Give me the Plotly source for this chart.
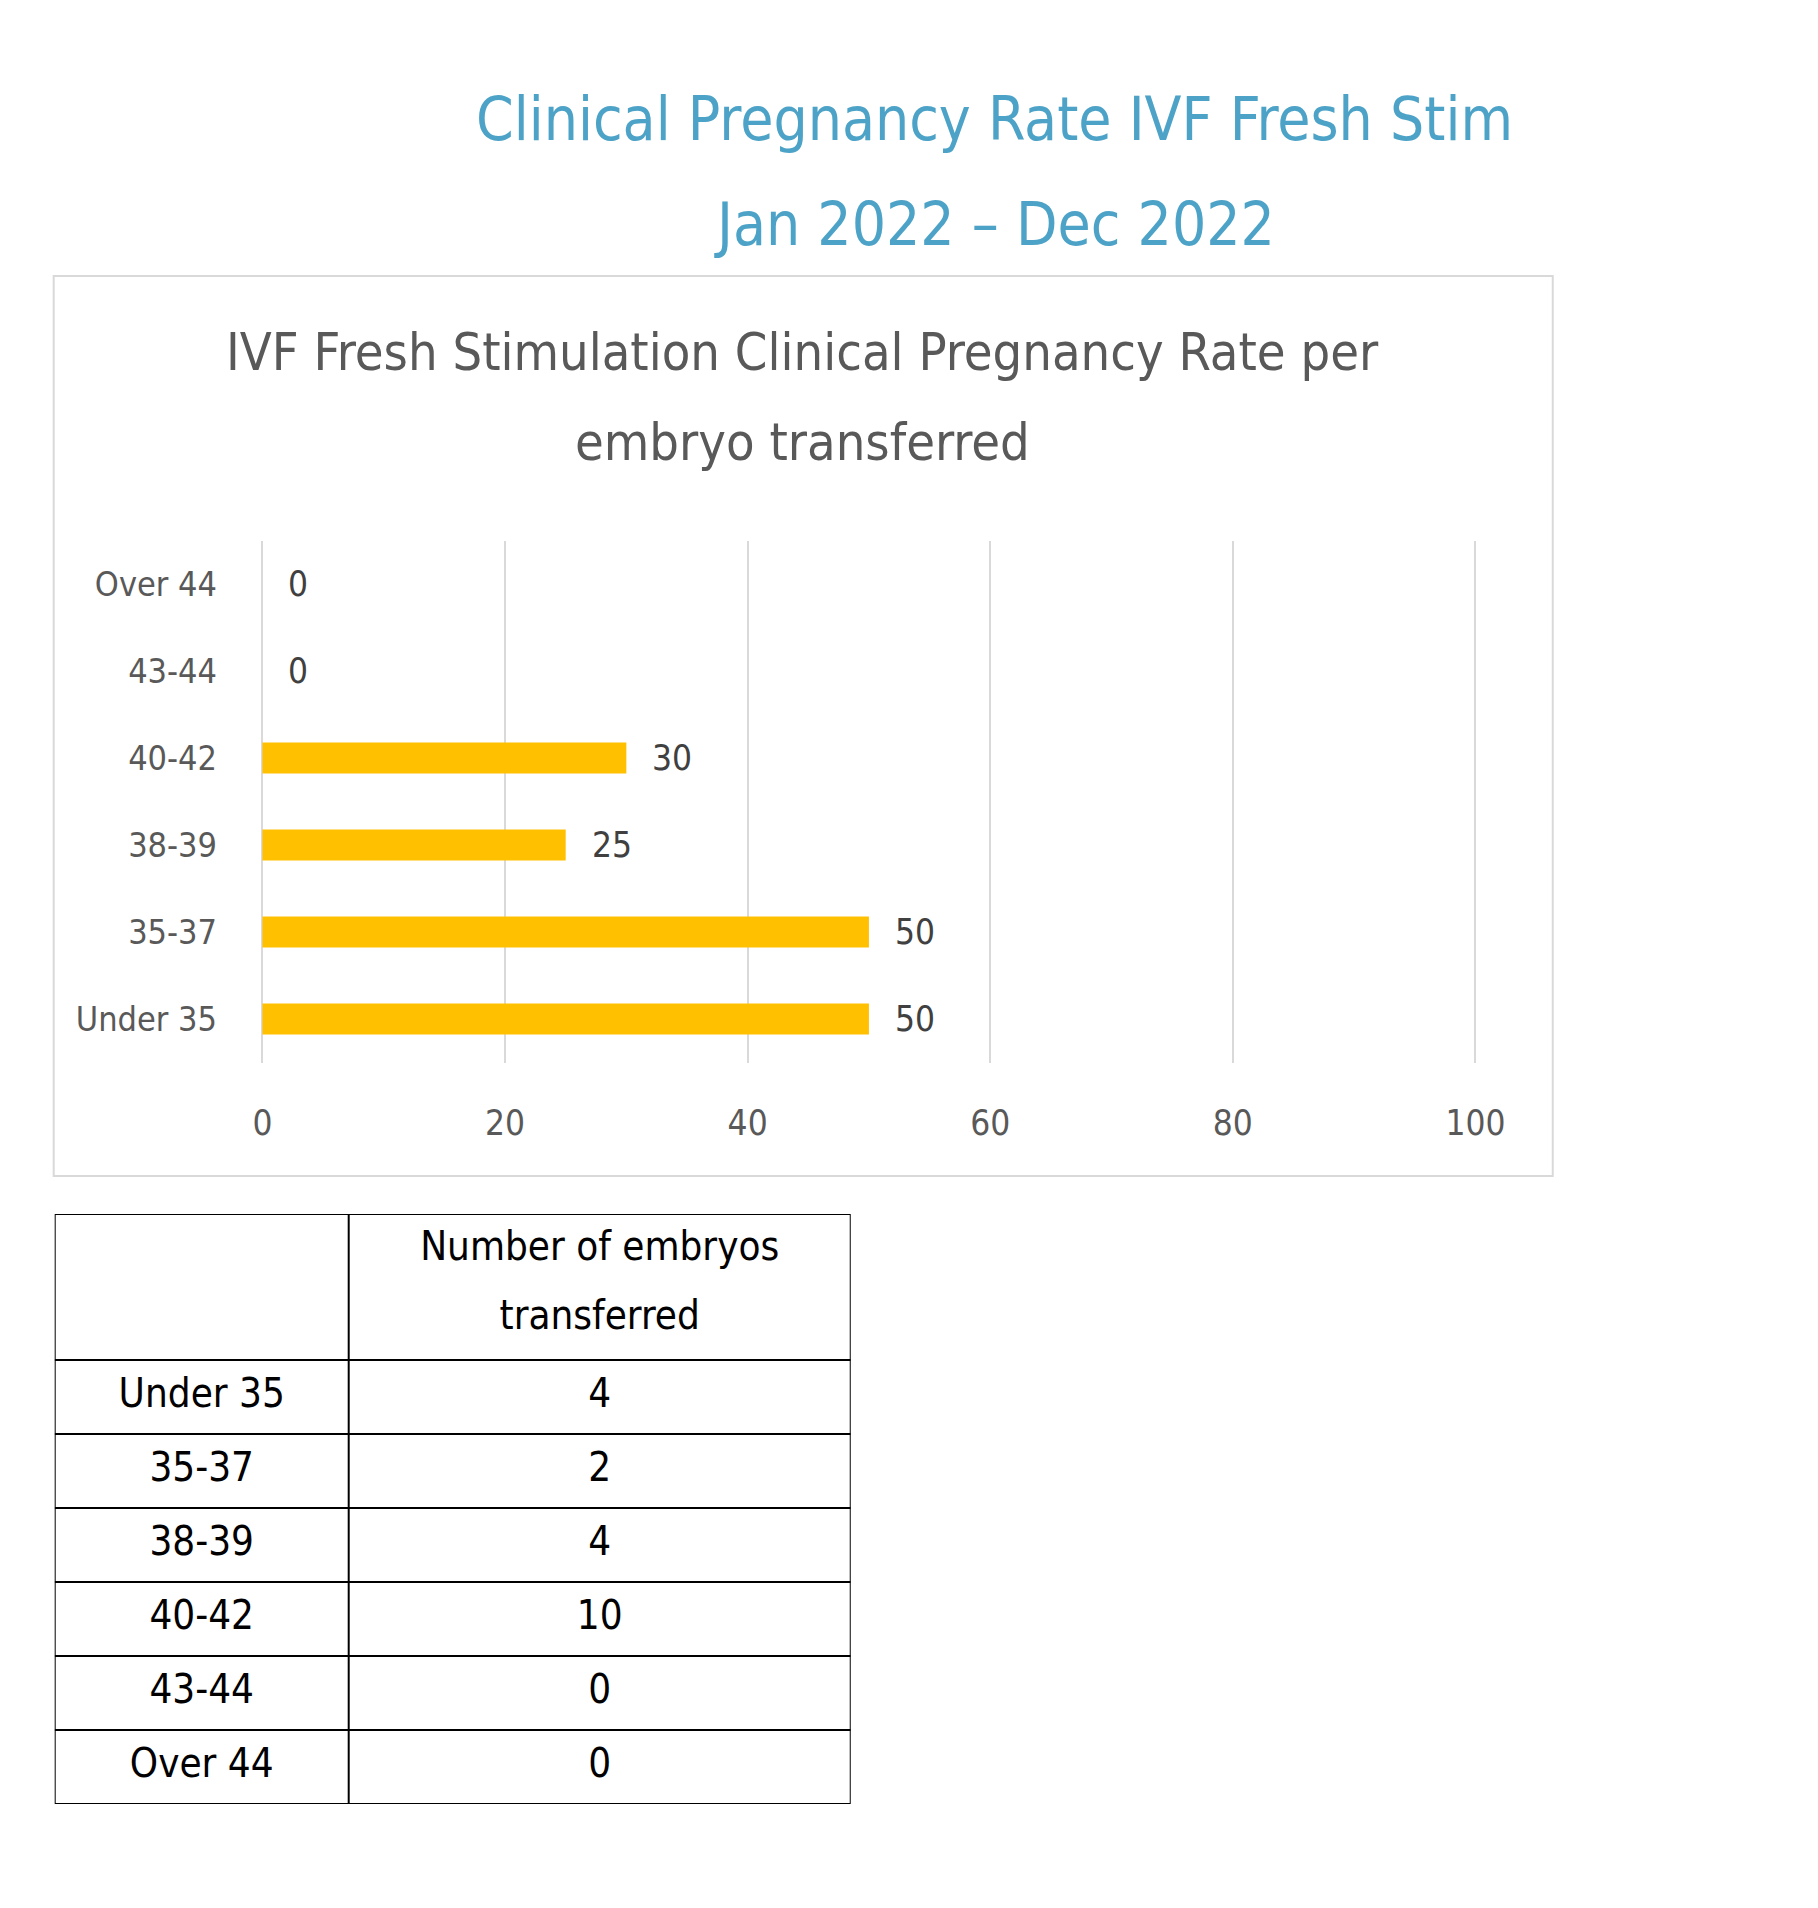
import plotly.graph_objects as go

# age groups, bottom to top as in the chart
age_groups = ["Under 35", "35-37", "38-39", "40-42", "43-44", "Over 44"]
# clinical pregnancy rate per embryo transferred (%)
pregnancy_rate = [50, 50, 25, 30, 0, 0]
# table: number of embryos transferred, listed top to bottom
table_groups = ["Under 35", "35-37", "38-39", "40-42", "43-44", "Over 44"]
embryos_transferred = [4, 2, 4, 10, 0, 0]
table_header = ["Number of embryos", "transferred"]
x_ticks = [0, 20, 40, 60, 80, 100]

# the page body keeps an 8px margin, so the figure is a little smaller than the window
PAGE_PAD = 8
W, H = 1796, 1884
# horizontal correction measured on the photographed page
X_GAIN, X_OFF = 1.0205, -6.6
FONT = "Liberation Sans Narrow, DejaVu Sans Condensed, Roboto, sans-serif"
TITLE_BLUE = "#4DA3C7"
GREY = "#595959"


def px_x(p):
    return (X_GAIN * p + X_OFF - PAGE_PAD) / W


def px_y(p):
    # pixel from top of the window -> paper coordinate
    return 1 - (p - PAGE_PAD) / H


fig = go.Figure()

fig.add_trace(go.Bar(
    x=pregnancy_rate,
    y=age_groups,
    orientation="h",
    marker=dict(color="#FFC000", line=dict(width=0)),
    width=0.355,
    hoverinfo="x+y",
    showlegend=False,
))

# data labels next to the bar ends
for val, grp in zip(pregnancy_rate, age_groups):
    fig.add_annotation(x=val, y=grp, xref="x", yref="y", text=str(val),
                       showarrow=False, xanchor="left", xshift=24,
                       font=dict(family=FONT, size=35, color="#404040"))

# 0..100 sits at 260.7..1473.7 px; range padded a little so the edge gridlines show
fig.update_xaxes(
    domain=[px_x(258.3), px_x(1476.1)],
    range=[-0.2, 100.2],
    tickvals=x_ticks,
    showgrid=True, gridcolor="#D9D9D9", gridwidth=2,
    zeroline=False, showline=False,
    ticklabelstandoff=36,
    tickfont=dict(family=FONT, size=35, color=GREY),
    fixedrange=True,
)
fig.update_yaxes(
    domain=[px_y(1062.5), px_y(540.5)],
    categoryorder="array", categoryarray=age_groups,
    range=[-0.5, 5.5],
    showgrid=False, zeroline=False, showline=False,
    ticklabelstandoff=42,
    tickfont=dict(family=FONT, size=34, color=GREY),
    fixedrange=True,
)

# chart frame
fig.add_shape(type="rect", xref="paper", yref="paper",
              x0=px_x(52), x1=px_x(1551), y0=px_y(1176), y1=px_y(276),
              line=dict(color="#D9D9D9", width=2), fillcolor="rgba(0,0,0,0)",
              layer="below")

# ---- table on its own hidden axes (units are pixels of the page) ----
TBL_L, TBL_R, TBL_T = 53, 849, 1214
COL_SPLIT = 347
HEAD_H, ROW_H = 146, 74
TBL_B = TBL_T + HEAD_H + ROW_H * len(table_groups)

fig.update_layout(
    xaxis2=dict(domain=[px_x(TBL_L), px_x(TBL_R)], range=[TBL_L, TBL_R],
                visible=False, fixedrange=True, anchor="y2"),
    yaxis2=dict(domain=[px_y(TBL_B), px_y(TBL_T)], range=[TBL_B, TBL_T],
                visible=False, fixedrange=True, anchor="x2"),
)

line_style = dict(color="black", width=2)
fig.add_shape(type="rect", xref="x2", yref="y2", x0=TBL_L, x1=TBL_R,
              y0=TBL_T, y1=TBL_B, line=line_style)
fig.add_shape(type="line", xref="x2", yref="y2", x0=COL_SPLIT, x1=COL_SPLIT,
              y0=TBL_T, y1=TBL_B, line=line_style)
for i in range(len(table_groups)):
    yl = TBL_T + HEAD_H + ROW_H * i
    fig.add_shape(type="line", xref="x2", yref="y2", x0=TBL_L, x1=TBL_R,
                  y0=yl, y1=yl, line=line_style)

left_c = (TBL_L + COL_SPLIT) / 2
right_c = (COL_SPLIT + TBL_R) / 2
row_c = [TBL_T + HEAD_H + ROW_H * (i + 0.5) for i in range(len(table_groups))]
head_c = [TBL_T + 36, TBL_T + 105]

fig.add_trace(go.Scatter(
    x=[right_c] * len(table_header) + [left_c] * len(table_groups) + [right_c] * len(table_groups),
    y=head_c + row_c + row_c,
    text=table_header + table_groups + [str(v) for v in embryos_transferred],
    mode="text", textposition="middle center",
    textfont=dict(family=FONT, size=40, color="black"),
    xaxis="x2", yaxis="y2", hoverinfo="skip", showlegend=False,
))

# page titles
for txt, yc in [("Clinical Pregnancy Rate IVF Fresh Stim", 119),
                ("Jan 2022 \u2013 Dec 2022", 224)]:
    fig.add_annotation(x=px_x(993), y=px_y(yc), xref="paper", yref="paper",
                       text=txt, showarrow=False, xanchor="center", yanchor="middle",
                       font=dict(family=FONT, size=60, color=TITLE_BLUE))

# chart title
for txt, yc in [("IVF Fresh Stimulation Clinical Pregnancy Rate per", 352),
                ("embryo transferred", 442)]:
    fig.add_annotation(x=px_x(801), y=px_y(yc), xref="paper", yref="paper",
                       text=txt, showarrow=False, xanchor="center", yanchor="middle",
                       font=dict(family=FONT, size=52, color=GREY))

fig.update_layout(
    width=W, height=H,
    margin=dict(l=0, r=0, t=0, b=0),
    paper_bgcolor="white", plot_bgcolor="white",
    bargap=0.64,
)

fig.write_html("out.html")
